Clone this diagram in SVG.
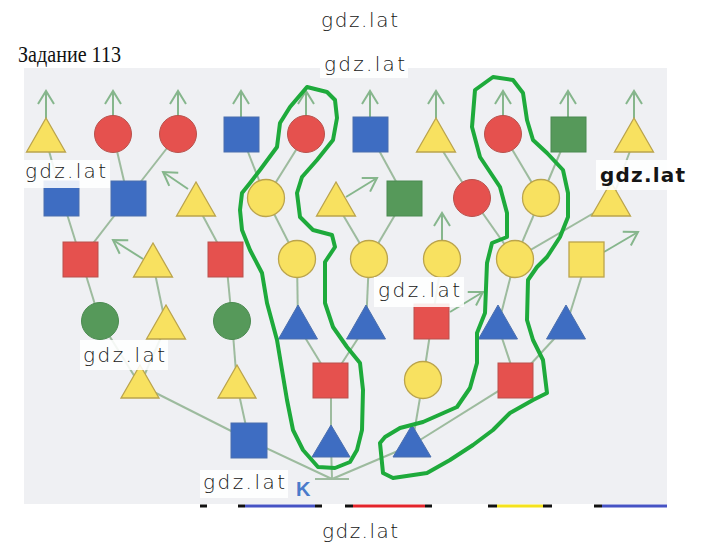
<svg xmlns="http://www.w3.org/2000/svg" width="720" height="549" viewBox="0 0 720 549">
<defs>
<style>
.e{stroke:#9dbb9e;stroke-width:2;fill:none}
.a{stroke:#86b68c;stroke-width:2;fill:none;marker-end:url(#ah)}
.r{fill:#e5514e;stroke:#b9514c;stroke-width:1}
.y{fill:#f8e160;stroke:#bba44c;stroke-width:1.3}
.b{fill:#3e6dc2;stroke:#4b6fae;stroke-width:1}
.g{fill:#56995a;stroke:#4b8a50;stroke-width:1}
.o{fill:none;stroke:#1eaa3b;stroke-width:4;stroke-linejoin:round;stroke-linecap:round}
.wm{font-family:"DejaVu Sans","Noto Sans",sans-serif;font-size:20px;font-weight:300;fill:#151515}
.wmb{fill:#ffffff;opacity:0.88}
</style>
<marker id="ah" viewBox="-15 -10 17 20" refX="0" refY="0" markerWidth="17" markerHeight="20" markerUnits="userSpaceOnUse" orient="auto">
<path d="M-13,-8 L0,0 L-13,8" fill="none" stroke="#86b68c" stroke-width="2"/>
</marker>
</defs>
<rect x="0" y="0" width="720" height="549" fill="#ffffff"/>
<rect x="24" y="68" width="643" height="436" fill="#eff0f3"/>
<text x="18" y="62" font-family="Liberation Serif, serif" font-size="23" textLength="103" lengthAdjust="spacingAndGlyphs" fill="#111">Задание 113</text>

<g id="connectors">
<line class="e" x1="315" y1="479" x2="349" y2="479"/>
<line class="e" x1="332" y1="479" x2="249" y2="440"/>
<line class="e" x1="332" y1="479" x2="331" y2="445"/>
<line class="e" x1="332" y1="479" x2="412" y2="445"/>
<line class="e" x1="249" y1="440" x2="140" y2="385"/>
<line class="e" x1="249" y1="440" x2="237" y2="385"/>
<line class="e" x1="331" y1="445" x2="331" y2="380"/>
<line class="e" x1="412" y1="445" x2="423" y2="380"/>
<line class="e" x1="412" y1="445" x2="516" y2="380"/>
<line class="e" x1="140" y1="385" x2="100" y2="321"/>
<line class="e" x1="140" y1="385" x2="166" y2="326"/>
<line class="e" x1="237" y1="385" x2="232" y2="321"/>
<line class="e" x1="331" y1="380" x2="298" y2="326"/>
<line class="e" x1="331" y1="380" x2="366" y2="326"/>
<line class="e" x1="423" y1="380" x2="432" y2="321"/>
<line class="e" x1="516" y1="380" x2="498" y2="326"/>
<line class="e" x1="516" y1="380" x2="566" y2="326"/>
<line class="e" x1="100" y1="321" x2="81" y2="259"/>
<line class="e" x1="166" y1="326" x2="153" y2="264"/>
<line class="e" x1="232" y1="321" x2="226" y2="259"/>
<line class="e" x1="298" y1="326" x2="297" y2="259"/>
<line class="e" x1="366" y1="326" x2="369" y2="259"/>
<line class="e" x1="432" y1="321" x2="442" y2="259"/>
<line class="e" x1="498" y1="326" x2="515" y2="259"/>
<line class="e" x1="566" y1="326" x2="587" y2="259"/>
<line class="e" x1="81" y1="259" x2="62" y2="198"/>
<line class="e" x1="81" y1="259" x2="128" y2="198"/>
<line class="e" x1="226" y1="259" x2="196" y2="203"/>
<line class="e" x1="297" y1="259" x2="266" y2="198"/>
<line class="e" x1="369" y1="259" x2="336" y2="203"/>
<line class="e" x1="369" y1="259" x2="405" y2="198"/>
<line class="e" x1="515" y1="259" x2="472" y2="198"/>
<line class="e" x1="515" y1="259" x2="541" y2="198"/>
<line class="e" x1="515" y1="259" x2="611" y2="203"/>
<line class="e" x1="62" y1="198" x2="46" y2="140"/>
<line class="e" x1="128" y1="198" x2="113" y2="134"/>
<line class="e" x1="128" y1="198" x2="178" y2="134"/>
<line class="e" x1="266" y1="198" x2="241" y2="134"/>
<line class="e" x1="266" y1="198" x2="306" y2="134"/>
<line class="e" x1="405" y1="198" x2="370" y2="134"/>
<line class="e" x1="472" y1="198" x2="436" y2="140"/>
<line class="e" x1="541" y1="198" x2="503" y2="134"/>
<line class="e" x1="541" y1="198" x2="568" y2="134"/>
<line class="e" x1="611" y1="203" x2="634" y2="140"/>
<line class="a" x1="46" y1="118" x2="46" y2="91"/>
<line class="a" x1="113" y1="116" x2="113" y2="91"/>
<line class="a" x1="178" y1="116" x2="178" y2="91"/>
<line class="a" x1="241" y1="117" x2="241" y2="91"/>
<line class="a" x1="306" y1="116" x2="306" y2="91"/>
<line class="a" x1="370" y1="117" x2="370" y2="91"/>
<line class="a" x1="436" y1="118" x2="436" y2="91"/>
<line class="a" x1="503" y1="116" x2="503" y2="91"/>
<line class="a" x1="568" y1="117" x2="568" y2="91"/>
<line class="a" x1="634" y1="118" x2="634" y2="91"/>
<line class="a" x1="188" y1="189" x2="163" y2="172"/>
<line class="a" x1="346" y1="197" x2="377" y2="178"/>
<line class="a" x1="143" y1="259" x2="113" y2="240"/>
<line class="a" x1="442" y1="241" x2="442" y2="213"/>
<line class="a" x1="604" y1="252" x2="638" y2="232"/>
<line class="a" x1="450" y1="312" x2="483" y2="292"/>
</g>

<g id="row1">
<g id="n1a"><polygon class="y" points="46,118 26.5,152 65.5,152"/></g>
<g id="n1b"><circle class="r" cx="113" cy="134" r="18.5"/></g>
<g id="n1c"><circle class="r" cx="178" cy="134" r="18.5"/></g>
<g id="n1d"><rect class="b" x="224" y="117" width="35" height="35"/></g>
<g id="n1e"><circle class="r" cx="306" cy="134" r="18.5"/></g>
<g id="n1f"><rect class="b" x="353" y="117" width="35" height="35"/></g>
<g id="n1g"><polygon class="y" points="436,118 416.5,152 455.5,152"/></g>
<g id="n1h"><circle class="r" cx="503" cy="134" r="18.5"/></g>
<g id="n1i"><rect class="g" x="551" y="117" width="35" height="35"/></g>
<g id="n1j"><polygon class="y" points="634,118 614.5,152 653.5,152"/></g>
</g>
<g id="row2">
<g id="n2a"><rect class="b" x="44" y="181" width="35" height="35"/></g>
<g id="n2b"><rect class="b" x="111" y="181" width="35" height="35"/></g>
<g id="n2c"><polygon class="y" points="196,182 176.5,216 215.5,216"/></g>
<g id="n2d"><circle class="y" cx="266" cy="198" r="18.5"/></g>
<g id="n2e"><polygon class="y" points="336,182 316.5,216 355.5,216"/></g>
<g id="n2f"><rect class="g" x="387" y="181" width="35" height="35"/></g>
<g id="n2g"><circle class="r" cx="472" cy="198" r="18.5"/></g>
<g id="n2h"><circle class="y" cx="541" cy="198" r="18.5"/></g>
<g id="n2i"><polygon class="y" points="611,182 591.5,216 630.5,216"/></g>
</g>
<g id="row3">
<g id="n3a"><rect class="r" x="63" y="242" width="35" height="35"/></g>
<g id="n3b"><polygon class="y" points="153,243 133.5,277 172.5,277"/></g>
<g id="n3c"><rect class="r" x="208" y="242" width="35" height="35"/></g>
<g id="n3d"><circle class="y" cx="297" cy="259" r="18.5"/></g>
<g id="n3e"><circle class="y" cx="369" cy="259" r="18.5"/></g>
<g id="n3f"><circle class="y" cx="442" cy="259" r="18.5"/></g>
<g id="n3g"><circle class="y" cx="515" cy="259" r="18.5"/></g>
<g id="n3h"><rect class="y" x="569" y="242" width="35" height="35"/></g>
</g>
<g id="row4">
<g id="n4a"><circle class="g" cx="100" cy="321" r="18.5"/></g>
<g id="n4b"><polygon class="y" points="166,305 146.5,339 185.5,339"/></g>
<g id="n4c"><circle class="g" cx="232" cy="321" r="18.5"/></g>
<g id="n4d"><polygon class="b" points="298,305 278.5,339 317.5,339"/></g>
<g id="n4e"><polygon class="b" points="366,305 346.5,339 385.5,339"/></g>
<g id="n4f"><rect class="r" x="414" y="304" width="35" height="35"/></g>
<g id="n4g"><polygon class="b" points="498,305 478.5,339 517.5,339"/></g>
<g id="n4h"><polygon class="b" points="566,305 546.5,339 585.5,339"/></g>
</g>
<g id="row5">
<g id="n5a"><polygon class="y" points="140,365 121,398 159,398"/></g>
<g id="n5b"><polygon class="y" points="237,365 218,398 256,398"/></g>
<g id="n5c"><rect class="r" x="313" y="363" width="35" height="35"/></g>
<g id="n5d"><circle class="y" cx="423" cy="380" r="18.5"/></g>
<g id="n5e"><rect class="r" x="498" y="363" width="35" height="35"/></g>
</g>
<g id="row6">
<g id="n6a"><rect class="b" x="231" y="423" width="36" height="35"/></g>
<g id="n6b"><polygon class="b" points="331,425 312,457 350,457"/></g>
<g id="n6c"><polygon class="b" points="412,425 393,457 431,457"/></g>
</g>
<g id="root"><text x="296" y="496" font-family="Liberation Sans, sans-serif" font-size="20" font-weight="bold" fill="#4a7bcb">K</text></g>

<g id="outlines">
<path class="o" d="M307,87 L327,92 L335,100 L337,118 L333,140 L317,160 L302,177 L297,193 L300,217 L313,230 L332,235 L335,247 L325,262 L325,303 L333,327 L347,347 L360,363 L363,390 L362,430 L357,450 L350,462 L335,468 L318,467 L303,450 L293,430 L287,400 L277,340 L267,303 L262,273 L250,250 L242,230 L240,210 L242,193 L250,183 L260,170 L277,147 L280,123 L290,107 Z"/>
<path class="o" d="M493,77 L513,80 L523,93 L527,120 L533,140 L547,153 L563,170 L568,193 L568,217 L560,237 L547,257 L537,267 L528,280 L527,320 L533,340 L543,360 L547,393 L533,400 L510,413 L493,430 L473,445 L450,460 L427,473 L393,478 L383,473 L380,443 L385,437 L400,428 L423,422 L457,407 L470,388 L477,363 L477,333 L485,313 L487,263 L492,243 L507,237 L507,213 L500,187 L480,157 L472,127 L475,90 Z"/>
</g>

<g id="bars" stroke-width="3">
<line x1="200" y1="506" x2="207" y2="506" stroke="#111"/>
<line x1="238" y1="506" x2="245" y2="506" stroke="#111"/>
<line x1="245" y1="506" x2="315" y2="506" stroke="#4653c4"/>
<line x1="315" y1="506" x2="322" y2="506" stroke="#111"/>
<line x1="345" y1="506" x2="353" y2="506" stroke="#111"/>
<line x1="353" y1="506" x2="425" y2="506" stroke="#e3242b"/>
<line x1="425" y1="506" x2="432" y2="506" stroke="#111"/>
<line x1="488" y1="506" x2="497" y2="506" stroke="#111"/>
<line x1="497" y1="506" x2="543" y2="506" stroke="#f4e21c"/>
<line x1="543" y1="506" x2="552" y2="506" stroke="#111"/>
<line x1="594" y1="506" x2="602" y2="506" stroke="#111"/>
<line x1="602" y1="506" x2="667" y2="506" stroke="#4653c4"/>
</g>

<g id="watermarks">
<rect class="wmb" x="318" y="8" width="84" height="26"/>
<text class="wm" x="321" y="27" textLength="77">gdz.lat</text>
<rect class="wmb" x="320" y="54" width="88" height="24"/>
<text class="wm" x="324" y="71" textLength="81">gdz.lat</text>
<rect class="wmb" x="22" y="160" width="88" height="28"/>
<text class="wm" x="25" y="178" textLength="81">gdz.lat</text>
<rect class="wmb" x="596" y="160" width="94" height="30"/>
<text class="wm" x="600" y="182" textLength="85" font-weight="bold" style="font-weight:bold">gdz.lat</text>
<rect class="wmb" x="374" y="277" width="90" height="30"/>
<text class="wm" x="378" y="297" textLength="82">gdz.lat</text>
<rect class="wmb" x="80" y="340" width="88" height="30"/>
<text class="wm" x="83" y="362" textLength="82">gdz.lat</text>
<rect class="wmb" x="200" y="470" width="88" height="28"/>
<text class="wm" x="203" y="489" textLength="82">gdz.lat</text>
<rect class="wmb" x="319" y="520" width="84" height="26"/>
<text class="wm" x="322" y="538" textLength="76">gdz.lat</text>
</g>
</svg>
